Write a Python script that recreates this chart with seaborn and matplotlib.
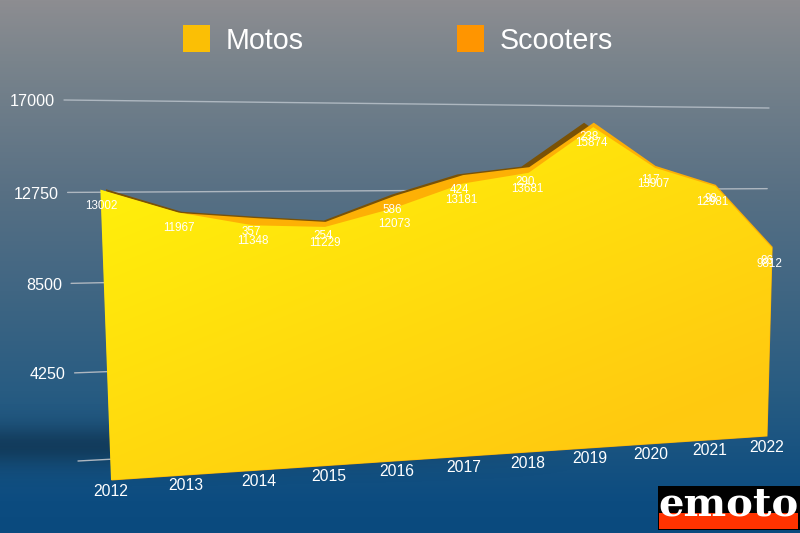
import numpy as np
import seaborn as sns
import matplotlib.pyplot as plt
import matplotlib.transforms as mtransforms
from matplotlib.patches import Rectangle

# valeurs
years = [2012, 2013, 2014, 2015, 2016, 2017, 2018, 2019, 2020, 2021, 2022]
motos = [13002, 11967, 11348, 11229, 12073, 13181, 13681, 15874, 13907, 12981, 9812]
scooters = [0, 0, 357, 254, 586, 424, 290, 238, 117, 98, 86]
y_ticks = [4250, 8500, 12750, 17000]
grid_values = [0, 4250, 8500, 12750, 17000]


def homography(src, dst):
    rows, rhs = [], []
    for (u, v), (x, y) in zip(src, dst):
        rows.append([u, v, 1, 0, 0, 0, -u * x, -v * x])
        rows.append([0, 0, 0, u, v, 1, -u * y, -v * y])
        rhs += [x, y]
    return np.append(np.linalg.solve(np.array(rows, float), np.array(rhs, float)), 1).reshape(3, 3)


class Perspective(mtransforms.Transform):
    input_dims = 2
    output_dims = 2

    def __init__(self, years_range, top, corners):
        super().__init__()
        a, b = years_range
        # on normalise pour garder un systeme bien conditionne
        self.a, self.du, self.top = a, b - a, top
        self.h = homography([(0, 0), (1, 0), (0, 1), (1, 1)], corners)

    def transform_non_affine(self, pts):
        pts = np.asarray(pts, float)
        p = np.c_[(pts[:, 0] - self.a) / self.du, pts[:, 1] / self.top, np.ones(len(pts))] @ self.h.T
        return p[:, :2] / p[:, [2]]


sns.set_theme(style="white")
plt.rcParams["font.family"] = ["Liberation Sans", "DejaVu Sans"]

fig = plt.figure(figsize=(8, 5.33), dpi=100)
ax = fig.add_axes([0, 0, 1, 1])

# face avant et mur du fond, en pixels de l'image
front = Perspective((2012, 2022), 17000, [(111, 480), (767, 436), (97, 97), (776, 106)])
wall = Perspective((2012, 2022), 17000, [(78, 461), (762, 424), (64, 100), (769, 108)])
front_t = front + ax.transData
wall_t = wall + ax.transData
depth = mtransforms.Affine2D().translate(-270, -130).scale(0.97, 0.985).translate(270, 130)
back_t = front + depth + ax.transData

# fond degrade
yy = np.arange(533)
stops_y = [0, 60, 190, 390, 500, 533]
r = np.interp(yy, stops_y, [141, 122, 88, 40, 12, 10])
g = np.interp(yy, stops_y, [141, 132, 112, 92, 76, 74])
b = np.interp(yy, stops_y, [145, 140, 132, 130, 128, 126])
bg = np.stack([r, g, b], axis=1)[:, None, :] / 255
ax.imshow(bg, extent=(0, 800, 533, 0), aspect="auto", zorder=0)

# ombre sous le graphique
xx, yg = np.meshgrid(np.arange(800), yy)
shadow = np.zeros((533, 800, 4))
shadow[..., 3] = 0.28 * np.exp(-((yg - 445) / 20.0) ** 2) * np.clip(1.2 - xx / 500, 0, 1)
ax.imshow(shadow, extent=(0, 800, 533, 0), aspect="auto", zorder=0.5)

# lignes de grille
for v in grid_values:
    sns.lineplot(x=[2012, 2022], y=[v, v], ax=ax, transform=wall_t, color="#aeb7c0",
                 linewidth=1.0, errorbar=None, zorder=1)

total = np.array(motos) + np.array(scooters)
zeros = np.zeros(len(years))

ax.fill_between(years, zeros, total, transform=back_t, color="#7a5206", linewidth=0, zorder=2)
ax.fill_between(years, zeros, total, transform=front_t, color="#fdb005", linewidth=0, zorder=3)
moto_poly = ax.fill_between(years, zeros, motos, transform=front_t, color="none", linewidth=0, zorder=3.5)

# degrade jaune de la face avant
t = np.clip(0.6 * xx / 800 + 0.8 * (yg - 100) / 433 - 0.1, 0, 1)
grad = np.stack([np.full_like(t, 255.0), 246 - 45 * t, 10 + 6 * t], axis=2) / 255
im = ax.imshow(grad, extent=(0, 800, 533, 0), aspect="auto", zorder=4)
im.set_clip_path(moto_poly.get_paths()[0], front_t)


def label(text, x, y, dy, dx=0, size=8.4, trans=front_t):
    ax.annotate(text, xy=(x, y), xycoords=trans, xytext=(dx * 0.72, -dy * 0.72),
                textcoords="offset points", ha="center", va="center",
                color="white", fontsize=size, zorder=6)


for yr, m, s, tot in zip(years, motos, scooters, total):
    shift = 1 - 0.4 * (yr - 2012)
    label(str(m), yr, m, 16, shift)
    if s > 0:
        label(str(s), yr, tot, 15, shift - 2)
    label(str(yr), yr, 0, 11, size=11.3)

for v in y_ticks:
    ax.annotate(str(v), xy=(2012, v), xycoords=wall_t, xytext=(-9 * 0.72, -2 * 0.72),
                textcoords="offset points", ha="right", va="center",
                color="white", fontsize=11.6, zorder=6)

# legende
for x0, col, name in [(183, "#fbbf05", "Motos"), (457, "#ff9500", "Scooters")]:
    ax.add_patch(Rectangle((x0, 25), 26.5, 26.5, color=col, zorder=6, linewidth=0))
    ax.text(x0 + 43, 41, name, color="white", fontsize=20.6, ha="left", va="center", zorder=6)

# logo
ax.add_patch(Rectangle((658, 486), 142, 44, color="black", zorder=7, linewidth=0))
ax.add_patch(Rectangle((659, 513), 139, 16, color="#ff3300", zorder=7.1, linewidth=0))
ax.text(729, 504, "emoto", color="white", fontsize=29, ha="center", va="center",
        family=["DejaVu Serif"], fontweight="bold", zorder=7.2)

ax.set_xlim(0, 800)
ax.set_ylim(533, 0)
ax.axis("off")
fig.savefig("out.png", dpi=100)
